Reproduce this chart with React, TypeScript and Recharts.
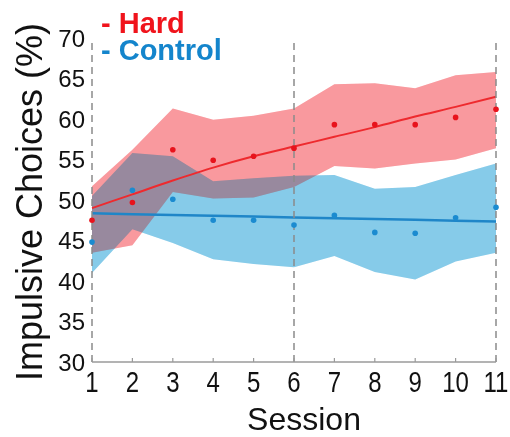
import React from 'react';
import { ComposedChart, Area, Line, XAxis, YAxis, ReferenceLine } from 'recharts';

const sessions = [1, 2, 3, 4, 5, 6, 7, 8, 9, 10, 11];
const yTicks = [30, 35, 40, 45, 50, 55, 60, 65, 70];
const dividerSessions = [1, 6, 11];

const hardMean = [47.5, 49.7, 56.2, 54.9, 55.4, 56.4, 59.3, 59.3, 59.3, 60.2, 61.2];
const hardUpper = [51.7, 56.2, 61.3, 59.9, 60.4, 61.3, 64.3, 64.4, 63.8, 65.4, 65.8];
const hardLower = [43.5, 44.4, 51.0, 50.2, 50.3, 51.6, 54.2, 53.9, 54.5, 55.0, 56.4];
const hardFit = [49.0, 50.7, 52.4, 54.0, 55.4, 56.6, 57.8, 59.0, 60.3, 61.5, 62.75];

const controlMean = [44.8, 51.2, 50.1, 47.5, 47.5, 46.9, 48.1, 46.0, 45.9, 47.8, 49.1];
const controlUpper = [50.5, 55.8, 55.4, 52.3, 52.7, 53.0, 53.1, 51.4, 51.6, 53.1, 54.5];
const controlLower = [41.0, 46.4, 44.7, 42.7, 42.1, 41.7, 43.1, 41.1, 40.2, 42.4, 43.5];
const controlFit = [48.35, 48.25, 48.15, 48.05, 47.95, 47.85, 47.75, 47.65, 47.55, 47.45, 47.35];

const data = sessions.map((s, i) => ({
  session: s,
  hardBand: [hardLower[i], hardUpper[i]],
  controlBand: [controlLower[i], controlUpper[i]],
  hardMean: hardMean[i],
  controlMean: controlMean[i],
  hardFit: hardFit[i],
  controlFit: controlFit[i],
}));

const FONT = '"Liberation Sans", Arial, Helvetica, sans-serif';
const PINK = '#f9999e';
const SKY = '#87cbea';

const XTick = (props: any) => {
  const { x, y, payload } = props;
  return (
    <g>
      <line x1={x} x2={x} y1={y} y2={y - 4} stroke="#9a9a9a" strokeWidth={1.2} />
      <text
        transform={`translate(${x},${y + 30}) scale(1,1.25)`}
        textAnchor="middle"
        fontSize={24}
        fill="#111"
        fontFamily={FONT}
      >
        {payload.value}
      </text>
    </g>
  );
};

const XLabel = (props: any) => {
  const vb = props.viewBox || { x: 92, y: 362, width: 404, height: 75 };
  return (
    <text x={vb.x + vb.width / 2 + 10} y={vb.y + 68} textAnchor="middle" fontSize={32} fill="#111" fontFamily={FONT}>
      Session
    </text>
  );
};

const YLabel = (props: any) => {
  const vb = props.viewBox || { x: 0, y: 38, width: 92, height: 324 };
  const cx = 42;
  const cy = vb.y + vb.height / 2 + 2;
  return (
    <text
      x={cx}
      y={cy}
      transform={`rotate(-90, ${cx}, ${cy})`}
      textAnchor="middle"
      fontSize={36}
      fill="#111"
      fontFamily={FONT}
    >
      Impulsive Choices (%)
    </text>
  );
};

const bandProps = {
  type: 'linear' as const,
  stroke: 'none',
  dot: false,
  activeDot: false,
  isAnimationActive: false,
};

export default function App() {
  return (
    <div style={{ position: 'absolute', left: 0, top: 0, width: 510, height: 437, background: '#fff' }}>
      <style>{`.blend-band { mix-blend-mode: multiply; }`}</style>
      <ComposedChart
        width={510}
        height={437}
        data={data}
        margin={{ top: 38, right: 14, bottom: 0, left: 0 }}
      >
        <XAxis
          type="number"
          dataKey="session"
          domain={[1, 11]}
          ticks={sessions}
          interval={0}
          height={75}
          tickSize={0}
          tickMargin={0}
          tickLine={false}
          axisLine={{ stroke: '#9a9a9a', strokeWidth: 1.5 }}
          tick={<XTick />}
          label={{ content: (p: any) => <XLabel {...p} /> }}
        />
        <YAxis
          type="number"
          domain={[30, 70]}
          ticks={yTicks}
          interval={0}
          width={92}
          tickSize={0}
          tickMargin={7}
          tickLine={false}
          axisLine={false}
          tick={{ fontSize: 24, fill: '#111', fontFamily: FONT }}
          label={{ content: (p: any) => <YLabel {...p} /> }}
        />
        <Area dataKey="hardBand" fill={PINK} fillOpacity={1} {...bandProps} />
        <Area dataKey="controlBand" className="blend-band" fill={SKY} fillOpacity={1} {...bandProps} />
        <Area dataKey="hardBand" fill={PINK} fillOpacity={0.2} {...bandProps} />
        <Area dataKey="controlBand" fill={SKY} fillOpacity={0.12} {...bandProps} />
        <Line dataKey="hardFit" type="monotone" stroke="#ee2a2e" strokeWidth={2} dot={false} activeDot={false} isAnimationActive={false} />
        <Line dataKey="controlFit" type="linear" stroke="#1f86c8" strokeWidth={2.5} dot={false} activeDot={false} isAnimationActive={false} />
        <Line dataKey="hardMean" stroke="none" dot={{ r: 2.8, fill: '#e8131c', stroke: 'none' }} activeDot={false} isAnimationActive={false} />
        <Line dataKey="controlMean" stroke="none" dot={{ r: 2.8, fill: '#1b8bd0', stroke: 'none' }} activeDot={false} isAnimationActive={false} />
        {dividerSessions.map((s) => (
          <ReferenceLine key={s} x={s} stroke="#8a8a8a" strokeWidth={1.5} strokeDasharray="7 5" />
        ))}
      </ComposedChart>
      <svg width={510} height={70} style={{ position: 'absolute', left: 0, top: 0, pointerEvents: 'none' }}>
        <text x={101} y={33} fontSize={29} fontWeight="bold" fill="#f0141c" fontFamily={FONT}>- Hard</text>
        <text x={101} y={60} fontSize={29} fontWeight="bold" fill="#1485cc" fontFamily={FONT}>- Control</text>
      </svg>
    </div>
  );
}
